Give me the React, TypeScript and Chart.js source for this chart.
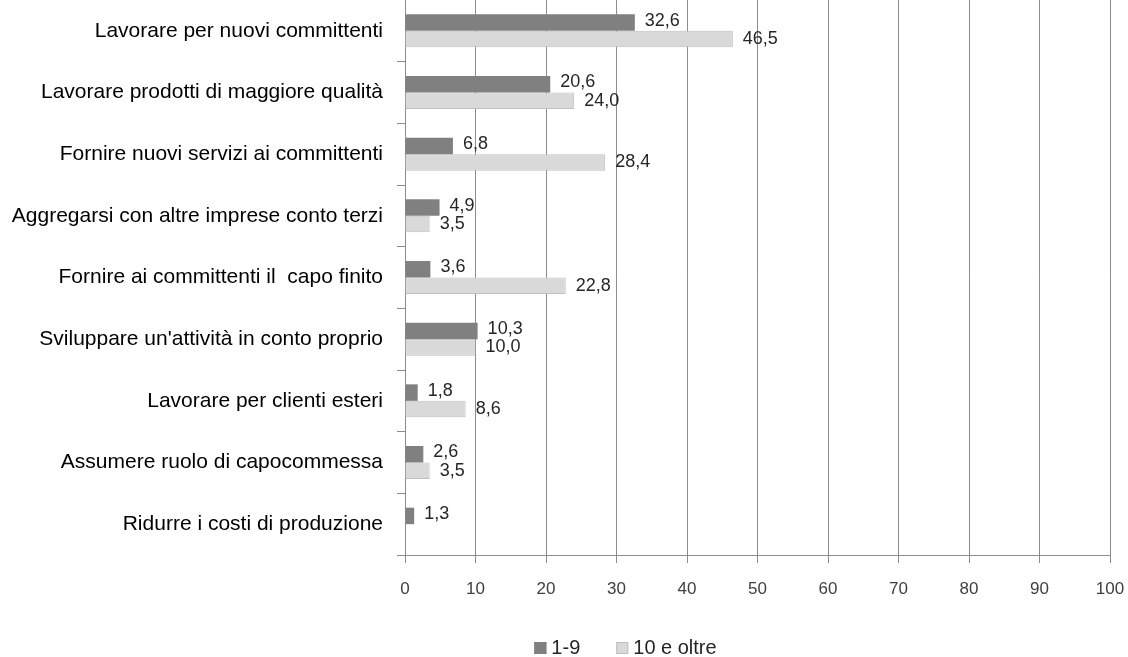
import React, { useEffect, useRef } from "react";
import { Chart, registerables } from "chart.js";

Chart.register(...registerables);

const categories = [
  "Lavorare per nuovi committenti",
  "Lavorare prodotti di maggiore qualità",
  "Fornire nuovi servizi ai committenti",
  "Aggregarsi con altre imprese conto terzi",
  "Fornire ai committenti il  capo finito",
  "Sviluppare un'attività in conto proprio",
  "Lavorare per clienti esteri",
  "Assumere ruolo di capocommessa",
  "Ridurre i costi di produzione",
];

const seriesSmall = [32.6, 20.6, 6.8, 4.9, 3.6, 10.3, 1.8, 2.6, 1.3];
const seriesLarge = [46.5, 24.0, 28.4, 3.5, 22.8, 10.0, 8.6, 3.5, null];

const seriesNames = ["1-9", "10 e oltre"];
const seriesColors = ["#808080", "#d9d9d9"];
const seriesBorders = ["#808080", "#bfbfbf"];
const xTicks = [0, 10, 20, 30, 40, 50, 60, 70, 80, 90, 100];

const FONT = "'Liberation Sans', Arial, sans-serif";

const labelPlugin = {
  id: "barValueLabels",
  afterDatasetsDraw(chart: any) {
    const ctx = chart.ctx;
    ctx.save();
    ctx.font = `18px ${FONT}`;
    ctx.fillStyle = "#262626";
    ctx.textBaseline = "middle";
    ctx.textAlign = "left";
    chart.data.datasets.forEach((ds: any, di: number) => {
      const meta = chart.getDatasetMeta(di);
      meta.data.forEach((el: any, i: number) => {
        const v = ds.data[i];
        if (v === null || v === undefined) return;
        const txt = Number(v).toFixed(1).replace(".", ",");
        ctx.fillText(txt, el.x + 10, el.y - (di === 0 ? 2 : 0));
      });
    });
    ctx.restore();
  },
};

const legendPlugin = {
  id: "customLegend",
  afterDraw(chart: any) {
    const ctx = chart.ctx;
    ctx.save();
    ctx.font = `20px ${FONT}`;
    ctx.textBaseline = "middle";
    ctx.textAlign = "left";
    const box = 12;
    const gapBoxText = 5;
    const gapItems = 36;
    const items = chart.data.datasets.map((ds: any) => ({
      text: ds.label,
      fill: ds.backgroundColor,
      stroke: ds.borderColor,
      w: box + gapBoxText + ctx.measureText(ds.label).width,
    }));
    const total = items.reduce((s: number, it: any) => s + it.w, 0) + gapItems * (items.length - 1);
    const cx = 625.5;
    const cy = 648;
    let x = cx - total / 2;
    items.forEach((it: any) => {
      ctx.fillStyle = it.fill;
      ctx.fillRect(x, cy - box / 2, box, box);
      ctx.strokeStyle = it.stroke;
      ctx.lineWidth = 1;
      ctx.strokeRect(x + 0.5, cy - box / 2 + 0.5, box - 1, box - 1);
      ctx.fillStyle = "#262626";
      ctx.fillText(it.text, x + box + gapBoxText, cy);
      x += it.w + gapItems;
    });
    ctx.restore();
  },
};

export default function App() {
  const ref = useRef<HTMLCanvasElement | null>(null);

  useEffect(() => {
    if (!ref.current) return;
    const chart = new Chart(ref.current, {
      type: "bar",
      data: {
        labels: categories,
        datasets: [
          {
            label: seriesNames[0],
            data: seriesSmall,
            backgroundColor: seriesColors[0],
            borderColor: seriesBorders[0],
            borderWidth: 0,
            categoryPercentage: 0.535,
            barPercentage: 1,
          },
          {
            label: seriesNames[1],
            data: seriesLarge as any,
            backgroundColor: seriesColors[1],
            borderColor: seriesBorders[1],
            borderWidth: 1,
            categoryPercentage: 0.535,
            barPercentage: 1,
          },
        ],
      },
      options: {
        indexAxis: "y",
        responsive: false,
        animation: false,
        layout: { padding: { left: 0, right: 18, top: 0, bottom: 0 } },
        plugins: {
          legend: { display: false },
          tooltip: { enabled: false },
        },
        scales: {
          x: {
            min: 0,
            max: 100,
            afterBuildTicks(scale: any) {
              scale.ticks = xTicks.map((v) => ({ value: v }));
            },
            afterFit(scale: any) {
              scale.height = 102;
              scale.paddingLeft = 0;
              scale.paddingRight = 0;
            },
            grid: {
              color: "#8c8c8c",
              lineWidth: 1,
              drawTicks: true,
              tickLength: 8,
            },
            border: { color: "#8c8c8c" },
            ticks: {
              color: "#404040",
              padding: 16,
              font: { family: FONT, size: 17 },
            },
          },
          y: {
            afterFit(scale: any) {
              scale.width = 405;
              scale.paddingTop = 0;
              scale.paddingBottom = 0;
            },
            grid: {
              drawOnChartArea: false,
              drawTicks: true,
              tickLength: 8,
              color: "#8c8c8c",
              offset: true,
            },
            border: { color: "#8c8c8c" },
            ticks: {
              color: "#000000",
              padding: 14,
              autoSkip: false,
              font: { family: FONT, size: 21 },
            },
          },
        },
      },
      plugins: [labelPlugin, legendPlugin],
    } as any);
    return () => chart.destroy();
  }, []);

  return (
    <div style={{ position: "fixed", left: 0, top: 0, width: 1128, height: 657, background: "#fff" }}>
      <canvas ref={ref} width={1128} height={657} style={{ display: "block" }} />
    </div>
  );
}
